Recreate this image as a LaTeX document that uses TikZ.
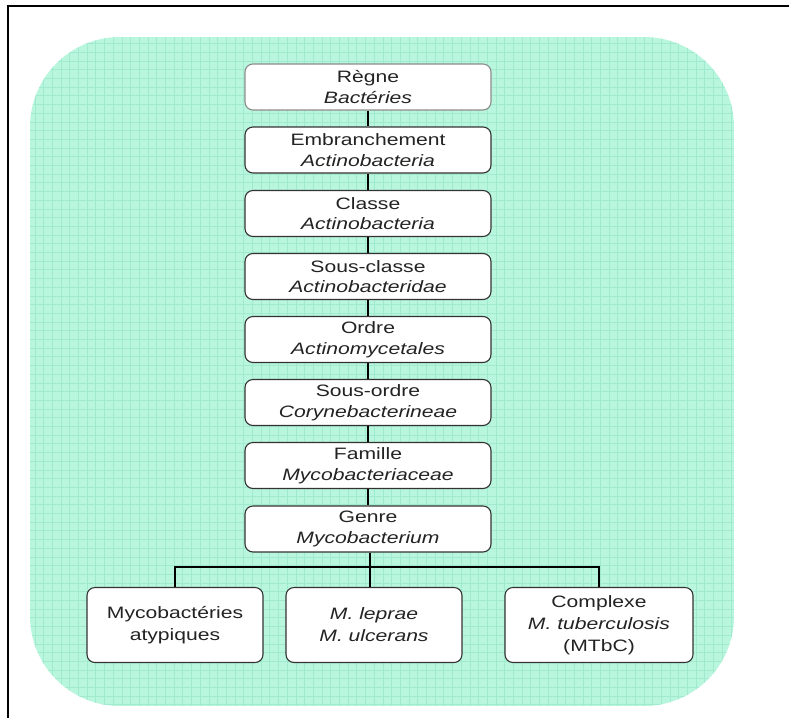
\documentclass[tikz,border=0pt]{standalone}
\usepackage{fontspec}
\setmainfont{Liberation Sans}[FakeStretch=1.28]
\usepackage{tikz}
\usetikzlibrary{positioning,calc}
\definecolor{mint}{RGB}{184,246,221}
\definecolor{mintline}{RGB}{162,234,206}
\definecolor{boxtext}{RGB}{35,35,35}
\tikzstyle{taxon}=[rectangle,rounded corners=8pt,draw=black!80,fill=white,line width=1.1pt,minimum width=246pt,minimum height=46pt,align=center,inner sep=1pt,text=boxtext,font=\fontsize{16.5}{20.5}\selectfont]
\tikzstyle{species}=[taxon,minimum height=75pt,font=\fontsize{16.5}{22}\selectfont]

\begin{document}
\begin{tikzpicture}[x=1pt,y=-1pt]
  \useasboundingbox (0,0) rectangle (789,718);
  % frame
  \draw [line width=2pt] (789,6) -- (8,6) -- (8,718);
  % background
  \begin{scope}
    \clip [rounded corners=90pt] (30,37) rectangle (734,706);
    \fill [mint] (30,37) rectangle (734,706);
    \draw [mintline, line width=0.6pt, step=8.7pt] (30,37) grid (734,706);
  \end{scope}

  \node [taxon, draw=black!45] at (368, 87) (regne) {Règne\\\textit{Bactéries}};
  \node [taxon] at (368, 150) (embr) {Embranchement\\\textit{Actinobacteria}};
  \node [taxon] at (368, 213.5) (classe) {Classe\\\textit{Actinobacteria}};
  \node [taxon] at (368, 276.5) (sclasse) {Sous-classe\\\textit{Actinobacteridae}};
  \node [taxon] at (368, 339.5) (ordre) {Ordre\\\textit{Actinomycetales}};
  \node [taxon] at (368, 402.5) (sordre) {Sous-ordre\\\textit{Corynebacterineae}};
  \node [taxon] at (368, 465.5) (famille) {Famille\\\textit{Mycobacteriaceae}};
  \node [taxon] at (368, 529) (genre) {Genre\\\textit{Mycobacterium}};

  \node [species, minimum width=176pt] at (175, 625) (atyp) {Mycobactéries\\atypiques};
  \node [species, minimum width=176pt] at (374, 625) (lepr) {\textit{M. leprae}\\\textit{M. ulcerans}};
  \node [species, minimum width=188pt] at (599, 625) (mtbc) {Complexe\\\textit{M. tuberculosis}\\(MTbC)};

  \coordinate (fork) at (370, 567);

  \draw [line width=1.1pt] (regne) -- (embr);
  \draw [line width=1.1pt] (embr) -- (classe);
  \draw [line width=1.1pt] (classe) -- (sclasse);
  \draw [line width=1.1pt] (sclasse) -- (ordre);
  \draw [line width=1.1pt] (ordre) -- (sordre);
  \draw [line width=1.1pt] (sordre) -- (famille);
  \draw [line width=1.1pt] (famille) -- (genre);
  \draw [line width=1.1pt] (genre.south -| fork) -- (fork |- lepr.north);
  \draw [line width=1.1pt] (atyp.north) |- (fork) -| (mtbc.north);
\end{tikzpicture}
\end{document}
